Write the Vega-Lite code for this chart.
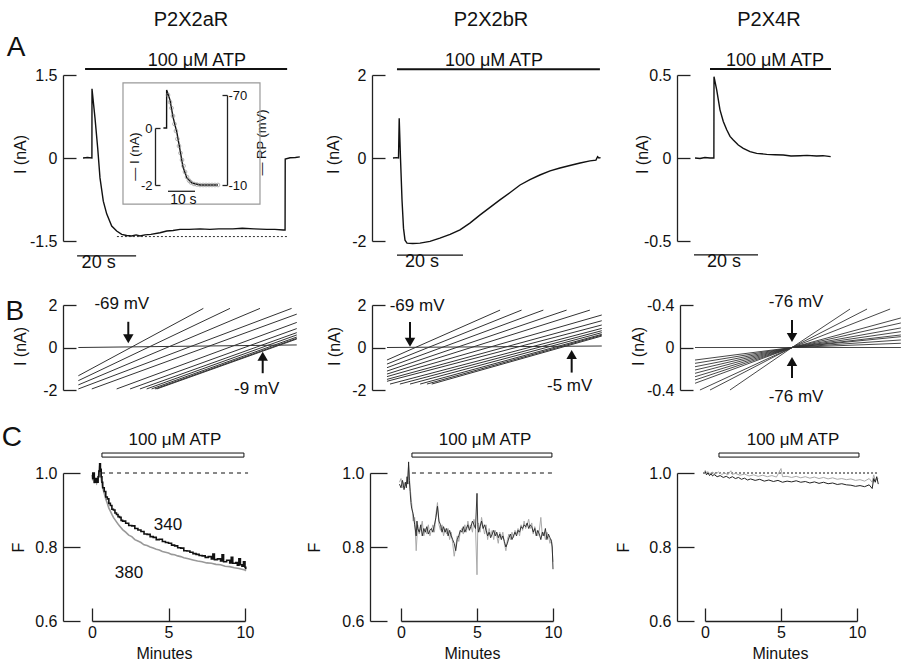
{
"$schema": "https://vega.github.io/schema/vega-lite/v6.json",
"autosize": {"type": "none"},
"padding": {"left": 63, "top": 75, "right": 838, "bottom": 590},
"background": "white",
"columns": 3,
"spacing": {"row": 64, "column": 0},
"bounds": "flush",
"concat": [
{
 "width": 307, "height": 166,
 "layer": [
  {
   "encoding": {
    "x": {"field": "t", "type": "quantitative", "scale": {"domain": [-6.78, 97.29], "nice": false, "zero": false}, "axis": null},
    "y": {"field": "I", "type": "quantitative", "scale": {"domain": [-1.5, 1.5], "nice": false, "zero": false}, "axis": {"values": [-1.5, 0, 1.5], "labelExpr": "'' + datum.value", "tickSize": -13, "labelPadding": 19, "title": "I (nA)", "titleX": -43, "titleY": 79, "titleBaseline": "middle"}}
   },
   "layer": [
    {"data": {"values": [
      {"t": 0, "I": 0}, {"t": 1.5, "I": 0.01}, {"t": 3.02, "I": 0}, {"t": 3.05, "I": 1.25}, {"t": 4.07, "I": 0.72}, {"t": 4.98, "I": 0.18}, {"t": 5.76, "I": -0.36}, {"t": 6.88, "I": -0.78}, {"t": 8.03, "I": -1.01}, {"t": 9.73, "I": -1.23}, {"t": 11.42, "I": -1.32}, {"t": 13.12, "I": -1.38}, {"t": 14.81, "I": -1.4}, {"t": 16.5, "I": -1.41}, {"t": 18, "I": -1.39}, {"t": 19.3, "I": -1.41}, {"t": 21, "I": -1.39}, {"t": 23, "I": -1.38}, {"t": 26.1, "I": -1.35}, {"t": 28.4, "I": -1.32}, {"t": 30.5, "I": -1.31}, {"t": 32.9, "I": -1.29}, {"t": 36, "I": -1.29}, {"t": 39.7, "I": -1.28}, {"t": 43, "I": -1.29}, {"t": 46, "I": -1.28}, {"t": 50.8, "I": -1.28}, {"t": 54, "I": -1.27}, {"t": 58, "I": -1.28}, {"t": 62.3, "I": -1.29}, {"t": 65, "I": -1.29}, {"t": 67.9, "I": -1.3}, {"t": 68.5, "I": -1.3}, {"t": 68.55, "I": -0.02}, {"t": 70.2, "I": 0.005}, {"t": 72, "I": 0.01}, {"t": 73.5, "I": 0.02}
     ]},
     "mark": {"type": "line", "color": "#111", "strokeWidth": 1.4}},
    {"data": {"values": [{"t": 11.5, "t2": 69.2, "I": -1.42}]},
     "mark": {"type": "rule", "color": "#333", "strokeWidth": 1, "strokeDash": [2, 2]},
     "encoding": {"x2": {"field": "t2"}}},
    {"data": {"values": [{"t": 0.7, "t2": 69.2, "I": 1.61}]},
     "mark": {"type": "rule", "color": "#111", "strokeWidth": 2},
     "encoding": {"x2": {"field": "t2"}}},
    {"data": {"values": [{"t": -2, "t2": 18, "I": -1.77}]},
     "mark": {"type": "rule", "color": "#111", "strokeWidth": 1.2},
     "encoding": {"x2": {"field": "t2"}}},
    {"data": {"values": [{"t": 38.6, "I": 1.75, "label": "100 μM ATP"}, {"t": 5.3, "I": -1.9, "label": "20 s"}]},
     "mark": {"type": "text", "fontSize": 18, "color": "#111"},
     "encoding": {"text": {"field": "label"}}},
    {"data": {"values": [{"t": 36.6, "I": 2.49, "label": "P2X2aR"}]},
     "mark": {"type": "text", "fontSize": 20, "color": "#111"},
     "encoding": {"text": {"field": "label"}}},
    {"data": {"values": [{"t": -22.7, "I": 1.99, "label": "A"}]},
     "mark": {"type": "text", "fontSize": 28, "color": "#111"},
     "encoding": {"text": {"field": "label"}}}
   ]
  },
  {
   "encoding": {"x": {"field": "t", "type": "quantitative", "scale": {"domain": [0, 10], "range": [105, 132], "nice": false, "zero": false}, "axis": null}},
   "layer": [
    {
     "encoding": {"y": {"field": "I", "type": "quantitative", "scale": {"domain": [-2, 0], "range": [110, 53], "nice": false, "zero": false}, "axis": {"orient": "left", "offset": -92, "values": [-2, 0], "labelExpr": "'' + datum.value", "tickSize": -5, "labelPadding": 8, "labelFontSize": 13, "title": "— I (nA)", "titleFontSize": 13, "titleX": -21, "titleY": 81, "titleBaseline": "middle"}}},
     "layer": [
      {"data": {"values": [{"t": -16.67, "t2": 34.07, "I": 1.58, "I2": -2.67}]},
       "mark": {"type": "rect", "filled": false, "color": "#999", "strokeWidth": 1.2},
       "encoding": {"x2": {"field": "t2"}, "y2": {"field": "I2"}}},
      {"data": {"values": [
        {"t": -1.7, "I": 0}, {"t": -0.52, "I": 0}, {"t": -0.5, "I": 1.33}, {"t": 0.74, "I": 0.98}, {"t": 1.85, "I": 0.39}, {"t": 3.33, "I": -0.18}, {"t": 4.44, "I": -0.77}, {"t": 5.56, "I": -1.37}, {"t": 7.0, "I": -1.75}, {"t": 8.9, "I": -1.93}, {"t": 11.9, "I": -2.0}, {"t": 15, "I": -2.0}, {"t": 18.5, "I": -2.0}
       ]},
       "mark": {"type": "line", "color": "#111", "strokeWidth": 1.4}},
      {"data": {"values": [{"t": 0, "t2": 10, "I": -2.22}]},
       "mark": {"type": "rule", "color": "#111", "strokeWidth": 1.2},
       "encoding": {"x2": {"field": "t2"}}},
      {"data": {"values": [{"t": 5.7, "I": -2.28, "label": "10 s"}]},
       "mark": {"type": "text", "fontSize": 14, "baseline": "top", "color": "#111"},
       "encoding": {"text": {"field": "label"}}}
     ]
    },
    {
     "data": {"values": [
      {"t": 0, "RP": -70}, {"t": 0.74, "RP": -65.3}, {"t": 1.3, "RP": -61.3}, {"t": 1.85, "RP": -56}, {"t": 2.4, "RP": -50.7}, {"t": 2.96, "RP": -46}, {"t": 3.5, "RP": -40.7}, {"t": 4.07, "RP": -36}, {"t": 4.63, "RP": -31.3}, {"t": 5.19, "RP": -26.7}, {"t": 5.74, "RP": -22.7}, {"t": 6.3, "RP": -18.7}, {"t": 7.04, "RP": -15.3}, {"t": 7.78, "RP": -13}, {"t": 8.5, "RP": -11.7}, {"t": 9.63, "RP": -10.7}, {"t": 10.7, "RP": -10.3}, {"t": 11.85, "RP": -10}, {"t": 13.0, "RP": -10}, {"t": 14.1, "RP": -10}, {"t": 15.2, "RP": -10}, {"t": 16.3, "RP": -10}, {"t": 17.4, "RP": -10}, {"t": 18.5, "RP": -10}
     ]},
     "mark": {"type": "point", "shape": "circle", "size": 14, "filled": false, "color": "#888", "strokeWidth": 0.9},
     "encoding": {"y": {"field": "RP", "type": "quantitative", "scale": {"domain": [-70, -10], "range": [20, 110], "nice": false, "zero": false}, "axis": {"orient": "right", "offset": -143, "values": [-70, -10], "labelExpr": "'' + datum.value", "tickSize": -5, "labelPadding": 6, "labelFontSize": 13, "title": "— RP (mV)", "titleFontSize": 13, "titleAngle": -90, "titleX": 34, "titleY": 67, "titleBaseline": "middle"}}}
    }
   ],
   "resolve": {"scale": {"y": "independent"}, "axis": {"y": "independent"}}
  }
 ],
 "resolve": {"scale": {"x": "independent", "y": "independent"}, "axis": {"y": "independent"}}
},
{
 "width": 307, "height": 166,
 "encoding": {
  "x": {"field": "t", "type": "quantitative", "scale": {"domain": [-6.97, 86.06], "nice": false, "zero": false}, "axis": null},
  "y": {"field": "I", "type": "quantitative", "scale": {"domain": [-2, 2], "nice": false, "zero": false}, "axis": {"offset": -2, "values": [-2, 0, 2], "labelExpr": "'' + datum.value", "tickSize": -13, "labelPadding": 19, "title": "I (nA)", "titleX": -39, "titleY": 79, "titleBaseline": "middle"}}
 },
 "layer": [
  {"data": {"values": [
    {"t": 0, "I": 0}, {"t": 1.0, "I": 0.01}, {"t": 1.67, "I": 0}, {"t": 1.88, "I": 0.96}, {"t": 2.27, "I": 0}, {"t": 2.73, "I": -1.01}, {"t": 3.18, "I": -1.69}, {"t": 3.64, "I": -1.98}, {"t": 4.24, "I": -2.05}, {"t": 6, "I": -2.06}, {"t": 8.18, "I": -2.05}, {"t": 11.2, "I": -2.01}, {"t": 14.2, "I": -1.93}, {"t": 17.3, "I": -1.84}, {"t": 20.3, "I": -1.73}, {"t": 23.3, "I": -1.57}, {"t": 26.4, "I": -1.37}, {"t": 29.4, "I": -1.19}, {"t": 32.4, "I": -1.01}, {"t": 35.5, "I": -0.83}, {"t": 38.5, "I": -0.65}, {"t": 41.5, "I": -0.52}, {"t": 44.5, "I": -0.41}, {"t": 47.6, "I": -0.31}, {"t": 50.6, "I": -0.24}, {"t": 53.6, "I": -0.18}, {"t": 56.7, "I": -0.12}, {"t": 59.7, "I": -0.07}, {"t": 61.5, "I": -0.05}, {"t": 62.0, "I": 0.03}, {"t": 62.4, "I": 0.0}, {"t": 62.9, "I": 0.01}
   ]},
   "mark": {"type": "line", "color": "#111", "strokeWidth": 1.4}},
  {"data": {"values": [{"t": 1.2, "t2": 62.7, "I": 2.14}]},
   "mark": {"type": "rule", "color": "#111", "strokeWidth": 2},
   "encoding": {"x2": {"field": "t2"}}},
  {"data": {"values": [{"t": 1.2, "t2": 21.2, "I": -2.34}]},
   "mark": {"type": "rule", "color": "#111", "strokeWidth": 1.2},
   "encoding": {"x2": {"field": "t2"}}},
  {"data": {"values": [{"t": 30.6, "I": 2.34, "label": "100 μM ATP"}, {"t": 8.8, "I": -2.51, "label": "20 s"}]},
   "mark": {"type": "text", "fontSize": 18, "color": "#111"},
   "encoding": {"text": {"field": "label"}}},
  {"data": {"values": [{"t": 29.7, "I": 3.33, "label": "P2X2bR"}]},
   "mark": {"type": "text", "fontSize": 20, "color": "#111"},
   "encoding": {"text": {"field": "label"}}}
 ]
},
{
 "width": 224, "height": 166,
 "encoding": {
  "x": {"field": "t", "type": "quantitative", "scale": {"domain": [-5.625, 64.375], "nice": false, "zero": false}, "axis": null},
  "y": {"field": "I", "type": "quantitative", "scale": {"domain": [-0.5, 0.5], "nice": false, "zero": false}, "axis": {"values": [-0.5, 0, 0.5], "labelExpr": "'' + datum.value", "tickSize": -13, "labelPadding": 19, "title": "I (nA)", "titleX": -35, "titleY": 79, "titleBaseline": "middle"}}
 },
 "layer": [
  {"data": {"values": [
    {"t": 0, "I": 0}, {"t": 1.56, "I": -0.003}, {"t": 3.1, "I": 0.003}, {"t": 4.7, "I": 0}, {"t": 5.9, "I": 0.0}, {"t": 5.94, "I": 0.49}, {"t": 6.78, "I": 0.41}, {"t": 7.81, "I": 0.29}, {"t": 8.84, "I": 0.22}, {"t": 9.91, "I": 0.17}, {"t": 10.94, "I": 0.13}, {"t": 11.97, "I": 0.108}, {"t": 13.53, "I": 0.078}, {"t": 15.09, "I": 0.058}, {"t": 17.19, "I": 0.038}, {"t": 19.28, "I": 0.028}, {"t": 22.41, "I": 0.022}, {"t": 25, "I": 0.02}, {"t": 27.6, "I": 0.018}, {"t": 30, "I": 0.012}, {"t": 32.8, "I": 0.014}, {"t": 35, "I": 0.016}, {"t": 38.0, "I": 0.012}, {"t": 40, "I": 0.014}, {"t": 42.4, "I": 0.008}
   ]},
   "mark": {"type": "line", "color": "#111", "strokeWidth": 1.4}},
  {"data": {"values": [{"t": 4.69, "t2": 42.5, "I": 0.536}]},
   "mark": {"type": "rule", "color": "#111", "strokeWidth": 2},
   "encoding": {"x2": {"field": "t2"}}},
  {"data": {"values": [{"t": -0.31, "t2": 19.69, "I": -0.584}]},
   "mark": {"type": "rule", "color": "#111", "strokeWidth": 1.2},
   "encoding": {"x2": {"field": "t2"}}},
  {"data": {"values": [{"t": 25.0, "I": 0.584, "label": "100 μM ATP"}, {"t": 9.06, "I": -0.627, "label": "20 s"}]},
   "mark": {"type": "text", "fontSize": 18, "color": "#111"},
   "encoding": {"text": {"field": "label"}}},
  {"data": {"values": [{"t": 23.1, "I": 0.831, "label": "P2X4R"}]},
   "mark": {"type": "text", "fontSize": 20, "color": "#111"},
   "encoding": {"text": {"field": "label"}}}
 ]
},
{
 "width": 307, "height": 104,
 "encoding": {
  "x": {"field": "V", "type": "quantitative", "scale": {"domain": [-98.15, 38.9], "nice": false, "zero": false}, "axis": null},
  "y": {"field": "I", "type": "quantitative", "scale": {"domain": [-2, 2], "range": [85, 0], "nice": false, "zero": false}, "axis": {"values": [-2, 0, 2], "labelExpr": "'' + datum.value", "tickSize": -13, "labelPadding": 19, "title": "I (nA)", "titleX": -43, "titleY": 41, "titleBaseline": "middle"}}
 },
 "layer": [
  {"data": {"values": [
    {"line": 0, "V": -91.3, "I": 0}, {"line": 0, "V": 6.2, "I": 0.12},
    {"line": 1, "V": -91.3, "I": -1.33}, {"line": 1, "V": -35.5, "I": 1.84},
    {"line": 2, "V": -91.3, "I": -1.56}, {"line": 2, "V": -23.6, "I": 1.84},
    {"line": 3, "V": -91.3, "I": -1.76}, {"line": 3, "V": -10.2, "I": 1.84},
    {"line": 4, "V": -91.3, "I": -1.95}, {"line": 4, "V": 3.9, "I": 1.84},
    {"line": 5, "V": -85.3, "I": -1.95}, {"line": 5, "V": 6.2, "I": 1.57},
    {"line": 6, "V": -74.2, "I": -1.95}, {"line": 6, "V": 6.2, "I": 1.18},
    {"line": 7, "V": -68.2, "I": -1.95}, {"line": 7, "V": 6.2, "I": 0.89},
    {"line": 8, "V": -63.8, "I": -1.95}, {"line": 8, "V": 6.2, "I": 0.7},
    {"line": 9, "V": -60.8, "I": -1.95}, {"line": 9, "V": 6.2, "I": 0.59},
    {"line": 10, "V": -58.6, "I": -1.95}, {"line": 10, "V": 6.2, "I": 0.49},
    {"line": 11, "V": -57.1, "I": -1.95}, {"line": 11, "V": 6.2, "I": 0.43},
    {"line": 12, "V": -56.3, "I": -1.95}, {"line": 12, "V": 6.2, "I": 0.4}
   ]},
   "mark": {"type": "line", "color": "#333", "strokeWidth": 1},
   "encoding": {"detail": {"field": "line", "type": "nominal"}}},
  {"data": {"values": [{"V": -69, "I": 1.21, "I2": 0.5}, {"V": -9, "I": -0.5, "I2": -1.21}]},
   "mark": {"type": "rule", "color": "#111", "strokeWidth": 2},
   "encoding": {"y2": {"field": "I2"}}},
  {"data": {"values": [{"V": -69, "I": 0.41, "dir": "down"}, {"V": -9, "I": -0.41, "dir": "up"}]},
   "mark": {"type": "point", "filled": true, "size": 110, "color": "#111", "opacity": 1},
   "encoding": {"shape": {"field": "dir", "type": "nominal", "scale": {"domain": ["down", "up"], "range": ["triangle-down", "triangle-up"]}, "legend": null}}},
  {"data": {"values": [{"V": -71.9, "I": 2.05, "label": "-69 mV"}, {"V": -11.7, "I": -1.95, "label": "-9 mV"}]},
   "mark": {"type": "text", "fontSize": 17, "color": "#111"},
   "encoding": {"text": {"field": "label"}}},
  {"data": {"values": [{"V": -119.6, "I": 1.67, "label": "B"}]},
   "mark": {"type": "text", "fontSize": 28, "color": "#111"},
   "encoding": {"text": {"field": "label"}}}
 ]
},
{
 "width": 307, "height": 104,
 "encoding": {
  "x": {"field": "V", "type": "quantitative", "scale": {"domain": [-84.81, 36.53], "nice": false, "zero": false}, "axis": null},
  "y": {"field": "I", "type": "quantitative", "scale": {"domain": [-2, 2], "range": [85, 0], "nice": false, "zero": false}, "axis": {"offset": -2, "values": [-2, 0, 2], "labelExpr": "'' + datum.value", "tickSize": -13, "labelPadding": 19, "title": "I (nA)", "titleX": -38, "titleY": 41, "titleBaseline": "middle"}}
 },
 "layer": [
  {"data": {"values": [
    {"line": 0, "V": -78.1, "I": 0}, {"line": 0, "V": 6.8, "I": 0.07},
    {"line": 1, "V": -78.1, "I": -0.59}, {"line": 1, "V": -33.4, "I": 1.76},
    {"line": 2, "V": -78.1, "I": -0.78}, {"line": 2, "V": -24.9, "I": 1.76},
    {"line": 3, "V": -78.1, "I": -0.95}, {"line": 3, "V": -16.3, "I": 1.76},
    {"line": 4, "V": -78.1, "I": -1.11}, {"line": 4, "V": -7.1, "I": 1.76},
    {"line": 5, "V": -78.1, "I": -1.25}, {"line": 5, "V": 2.1, "I": 1.76},
    {"line": 6, "V": -78.1, "I": -1.37}, {"line": 6, "V": 6.8, "I": 1.53},
    {"line": 7, "V": -78.1, "I": -1.5}, {"line": 7, "V": 6.8, "I": 1.26},
    {"line": 8, "V": -78.1, "I": -1.59}, {"line": 8, "V": 6.8, "I": 1.06},
    {"line": 9, "V": -76.9, "I": -1.72}, {"line": 9, "V": 6.8, "I": 0.9},
    {"line": 10, "V": -73.0, "I": -1.72}, {"line": 10, "V": 6.8, "I": 0.79},
    {"line": 11, "V": -69.0, "I": -1.72}, {"line": 11, "V": 6.8, "I": 0.7},
    {"line": 12, "V": -65.0, "I": -1.72}, {"line": 12, "V": 6.8, "I": 0.62},
    {"line": 13, "V": -62.3, "I": -1.72}, {"line": 13, "V": 6.8, "I": 0.58},
    {"line": 14, "V": -60.4, "I": -1.72}, {"line": 14, "V": 6.8, "I": 0.54}
   ]},
   "mark": {"type": "line", "color": "#333", "strokeWidth": 1},
   "encoding": {"detail": {"field": "line", "type": "nominal"}}},
  {"data": {"values": [{"V": -69, "I": 1.2, "I2": 0.35}, {"V": -5.1, "I": -0.45, "I2": -1.18}]},
   "mark": {"type": "rule", "color": "#111", "strokeWidth": 2},
   "encoding": {"y2": {"field": "I2"}}},
  {"data": {"values": [{"V": -69, "I": 0.25, "dir": "down"}, {"V": -5.1, "I": -0.33, "dir": "up"}]},
   "mark": {"type": "point", "filled": true, "size": 110, "color": "#111", "opacity": 1},
   "encoding": {"shape": {"field": "dir", "type": "nominal", "scale": {"domain": ["down", "up"], "range": ["triangle-down", "triangle-up"]}, "legend": null}}},
  {"data": {"values": [{"V": -66.2, "I": 1.95, "label": "-69 mV"}, {"V": -5.9, "I": -1.81, "label": "-5 mV"}]},
   "mark": {"type": "text", "fontSize": 17, "color": "#111"},
   "encoding": {"text": {"field": "label"}}}
 ]
},
{
 "width": 224, "height": 104,
 "encoding": {
  "x": {"field": "V", "type": "quantitative", "scale": {"domain": [-127.34, -27.34], "nice": false, "zero": false}, "axis": null},
  "y": {"field": "I", "type": "quantitative", "scale": {"domain": [-0.4, 0.4], "range": [85, 0], "nice": false, "zero": false}, "axis": {"offset": -3, "values": [-0.4, 0, 0.4], "labelExpr": "datum.value == 0 ? '0' : '-0.4'", "tickSize": -13, "labelPadding": 19, "title": "I (nA)", "titleX": -42, "titleY": 41, "titleBaseline": "middle"}}
 },
 "layer": [
  {"data": {"values": [
    {"line": 0, "V": -119.3, "I": 0}, {"line": 0, "V": -27.4, "I": 0},
    {"line": 1, "V": -103.7, "I": -0.4}, {"line": 1, "V": -76, "I": 0}, {"line": 1, "V": -50.1, "I": 0.362},
    {"line": 2, "V": -112.6, "I": -0.4}, {"line": 2, "V": -76, "I": 0}, {"line": 2, "V": -42.5, "I": 0.362},
    {"line": 3, "V": -117.1, "I": -0.4}, {"line": 3, "V": -76, "I": 0}, {"line": 3, "V": -32.2, "I": 0.362},
    {"line": 4, "V": -119.3, "I": -0.337}, {"line": 4, "V": -76, "I": 0}, {"line": 4, "V": -27.4, "I": 0.278},
    {"line": 5, "V": -119.3, "I": -0.306}, {"line": 5, "V": -76, "I": 0}, {"line": 5, "V": -27.4, "I": 0.231},
    {"line": 6, "V": -119.3, "I": -0.275}, {"line": 6, "V": -76, "I": 0}, {"line": 6, "V": -27.4, "I": 0.184},
    {"line": 7, "V": -119.3, "I": -0.243}, {"line": 7, "V": -76, "I": 0}, {"line": 7, "V": -27.4, "I": 0.149},
    {"line": 8, "V": -119.3, "I": -0.212}, {"line": 8, "V": -76, "I": 0}, {"line": 8, "V": -27.4, "I": 0.118},
    {"line": 9, "V": -119.3, "I": -0.181}, {"line": 9, "V": -76, "I": 0}, {"line": 9, "V": -27.4, "I": 0.102},
    {"line": 10, "V": -119.3, "I": -0.149}, {"line": 10, "V": -76, "I": 0}, {"line": 10, "V": -27.4, "I": 0.071},
    {"line": 11, "V": -119.3, "I": -0.118}, {"line": 11, "V": -76, "I": 0}, {"line": 11, "V": -27.4, "I": 0.04}
   ]},
   "mark": {"type": "line", "color": "#333", "strokeWidth": 0.9},
   "encoding": {"detail": {"field": "line", "type": "nominal"}}},
  {"data": {"values": [{"V": -76, "I": 0.259, "I2": 0.12}, {"V": -76, "I": -0.15, "I2": -0.287}]},
   "mark": {"type": "rule", "color": "#111", "strokeWidth": 2},
   "encoding": {"y2": {"field": "I2"}}},
  {"data": {"values": [{"V": -76, "I": 0.094, "dir": "down"}, {"V": -76, "I": -0.132, "dir": "up"}]},
   "mark": {"type": "point", "filled": true, "size": 110, "color": "#111", "opacity": 1},
   "encoding": {"shape": {"field": "dir", "type": "nominal", "scale": {"domain": ["down", "up"], "range": ["triangle-down", "triangle-up"]}, "legend": null}}},
  {"data": {"values": [{"V": -74.2, "I": 0.428, "label": "-76 mV"}, {"V": -74.2, "I": -0.466, "label": "-76 mV"}]},
   "mark": {"type": "text", "fontSize": 17, "color": "#111"},
   "encoding": {"text": {"field": "label"}}}
 ]
},
{
 "width": 307, "height": 148,
 "encoding": {
  "x": {"field": "t", "type": "quantitative", "scale": {"domain": [0, 10], "range": [29, 182], "nice": false, "zero": false}, "axis": {"values": [0, 5, 10], "tickSize": -13, "labelPadding": 16, "labelFlush": false, "title": "Minutes", "titleX": 101, "titleY": 32, "titleBaseline": "middle"}},
  "y": {"field": "F", "type": "quantitative", "scale": {"domain": [0.6, 1.0], "nice": false, "zero": false}, "axis": {"values": [0.6, 0.8, 1.0], "format": ".1f", "tickSize": -17, "labelPadding": 23, "title": "F", "titleX": -45, "titleY": 74, "titleBaseline": "middle"}}
 },
 "layer": [
  {"data": {"values": [{"t": 0.59, "t2": 10.2, "F": 1.0}]},
   "mark": {"type": "rule", "color": "#111", "strokeWidth": 1, "strokeDash": [4, 4]},
   "encoding": {"x2": {"field": "t2"}}},
  {"data": {"values": [{"t": 0.65, "t2": 9.93, "F": 1.043, "F2": 1.054}]},
   "mark": {"type": "rect", "fill": "white", "stroke": "#111", "strokeWidth": 1},
   "encoding": {"x2": {"field": "t2"}, "y2": {"field": "F2"}}},
  {"data": {"values": [
    {"t": 0.0, "F": 0.995}, {"t": 0.05, "F": 0.98}, {"t": 0.1, "F": 0.99}, {"t": 0.15, "F": 0.972}, {"t": 0.2, "F": 0.98}, {"t": 0.3, "F": 0.972}, {"t": 0.4, "F": 0.985}, {"t": 0.5, "F": 1.02}, {"t": 0.55, "F": 1.005}, {"t": 0.6, "F": 0.985}, {"t": 0.7, "F": 0.96}, {"t": 0.8, "F": 0.945}, {"t": 0.9, "F": 0.93}, {"t": 1.0, "F": 0.918}, {"t": 1.1, "F": 0.905}, {"t": 1.2, "F": 0.897}, {"t": 1.3, "F": 0.888}, {"t": 1.4, "F": 0.88}, {"t": 1.5, "F": 0.874}, {"t": 1.6, "F": 0.868}, {"t": 1.7, "F": 0.862}, {"t": 1.8, "F": 0.857}, {"t": 1.9, "F": 0.852}, {"t": 2.0, "F": 0.847}, {"t": 2.2, "F": 0.84}, {"t": 2.4, "F": 0.832}, {"t": 2.6, "F": 0.828}, {"t": 2.8, "F": 0.82}, {"t": 3.0, "F": 0.816}, {"t": 3.2, "F": 0.812}, {"t": 3.4, "F": 0.806}, {"t": 3.6, "F": 0.804}, {"t": 3.8, "F": 0.8}, {"t": 4.0, "F": 0.797}, {"t": 4.2, "F": 0.794}, {"t": 4.4, "F": 0.792}, {"t": 4.6, "F": 0.788}, {"t": 4.8, "F": 0.786}, {"t": 5.0, "F": 0.784}, {"t": 5.2, "F": 0.78}, {"t": 5.4, "F": 0.779}, {"t": 5.6, "F": 0.776}, {"t": 5.8, "F": 0.774}, {"t": 6.0, "F": 0.771}, {"t": 6.3, "F": 0.768}, {"t": 6.6, "F": 0.765}, {"t": 6.9, "F": 0.762}, {"t": 7.2, "F": 0.76}, {"t": 7.5, "F": 0.757}, {"t": 7.8, "F": 0.756}, {"t": 8.1, "F": 0.753}, {"t": 8.4, "F": 0.752}, {"t": 8.7, "F": 0.748}, {"t": 9.0, "F": 0.747}, {"t": 9.3, "F": 0.744}, {"t": 9.6, "F": 0.742}, {"t": 9.8, "F": 0.74}, {"t": 10.0, "F": 0.738}, {"t": 10.05, "F": 0.735}
   ]},
   "mark": {"type": "line", "color": "#999", "strokeWidth": 1.6}},
  {"data": {"values": [
    {"t": 0.0, "F": 1.0}, {"t": 0.05, "F": 0.985}, {"t": 0.1, "F": 1.0}, {"t": 0.15, "F": 0.975}, {"t": 0.2, "F": 0.985}, {"t": 0.25, "F": 0.975}, {"t": 0.3, "F": 0.985}, {"t": 0.35, "F": 0.975}, {"t": 0.4, "F": 0.99}, {"t": 0.45, "F": 1.005}, {"t": 0.5, "F": 1.025}, {"t": 0.55, "F": 1.01}, {"t": 0.6, "F": 0.99}, {"t": 0.65, "F": 0.975}, {"t": 0.7, "F": 0.96}, {"t": 0.8, "F": 0.95}, {"t": 0.9, "F": 0.935}, {"t": 1.0, "F": 0.93}, {"t": 1.1, "F": 0.918}, {"t": 1.2, "F": 0.912}, {"t": 1.3, "F": 0.902}, {"t": 1.4, "F": 0.9}, {"t": 1.5, "F": 0.892}, {"t": 1.6, "F": 0.888}, {"t": 1.7, "F": 0.882}, {"t": 1.8, "F": 0.88}, {"t": 1.9, "F": 0.872}, {"t": 2.0, "F": 0.87}, {"t": 2.2, "F": 0.864}, {"t": 2.4, "F": 0.858}, {"t": 2.6, "F": 0.857}, {"t": 2.8, "F": 0.85}, {"t": 3.0, "F": 0.846}, {"t": 3.2, "F": 0.842}, {"t": 3.4, "F": 0.835}, {"t": 3.6, "F": 0.834}, {"t": 3.8, "F": 0.828}, {"t": 4.0, "F": 0.826}, {"t": 4.2, "F": 0.82}, {"t": 4.4, "F": 0.821}, {"t": 4.6, "F": 0.815}, {"t": 4.8, "F": 0.812}, {"t": 5.0, "F": 0.81}, {"t": 5.2, "F": 0.805}, {"t": 5.4, "F": 0.803}, {"t": 5.6, "F": 0.798}, {"t": 5.8, "F": 0.797}, {"t": 6.0, "F": 0.79}, {"t": 6.2, "F": 0.789}, {"t": 6.4, "F": 0.786}, {"t": 6.6, "F": 0.782}, {"t": 6.8, "F": 0.78}, {"t": 7.0, "F": 0.777}, {"t": 7.2, "F": 0.776}, {"t": 7.4, "F": 0.772}, {"t": 7.6, "F": 0.774}, {"t": 7.8, "F": 0.768}, {"t": 7.9, "F": 0.781}, {"t": 8.0, "F": 0.766}, {"t": 8.2, "F": 0.768}, {"t": 8.4, "F": 0.762}, {"t": 8.5, "F": 0.779}, {"t": 8.6, "F": 0.76}, {"t": 8.8, "F": 0.764}, {"t": 9.0, "F": 0.757}, {"t": 9.1, "F": 0.772}, {"t": 9.2, "F": 0.756}, {"t": 9.4, "F": 0.758}, {"t": 9.5, "F": 0.751}, {"t": 9.6, "F": 0.768}, {"t": 9.7, "F": 0.752}, {"t": 9.8, "F": 0.748}, {"t": 9.9, "F": 0.76}, {"t": 10.0, "F": 0.745}, {"t": 10.05, "F": 0.74}
   ]},
   "mark": {"type": "line", "color": "#111", "strokeWidth": 1.6, "interpolate": "step-after"}},
  {"data": {"values": [{"t": 5.42, "F": 1.089, "label": "100 μM ATP"}, {"t": 4.97, "F": 0.859, "label": "340"}, {"t": 2.42, "F": 0.73, "label": "380"}]},
   "mark": {"type": "text", "fontSize": 17, "color": "#111"},
   "encoding": {"text": {"field": "label"}}},
  {"data": {"values": [{"t": -5.23, "F": 1.095, "label": "C"}]},
   "mark": {"type": "text", "fontSize": 28, "color": "#111"},
   "encoding": {"text": {"field": "label"}}}
 ]
},
{
 "width": 307, "height": 148,
 "encoding": {
  "x": {"field": "t", "type": "quantitative", "scale": {"domain": [0, 10], "range": [31, 183], "nice": false, "zero": false}, "axis": {"values": [0, 5, 10], "tickSize": -13, "labelPadding": 16, "labelFlush": false, "title": "Minutes", "titleX": 102, "titleY": 32, "titleBaseline": "middle"}},
  "y": {"field": "F", "type": "quantitative", "scale": {"domain": [0.6, 1.0], "nice": false, "zero": false}, "axis": {"values": [0.6, 0.8, 1.0], "format": ".1f", "tickSize": -17, "labelPadding": 23, "title": "F", "titleX": -56, "titleY": 74, "titleBaseline": "middle"}}
 },
 "layer": [
  {"data": {"values": [{"t": 0.72, "t2": 10.0, "F": 1.0}]},
   "mark": {"type": "rule", "color": "#111", "strokeWidth": 1, "strokeDash": [4, 4]},
   "encoding": {"x2": {"field": "t2"}}},
  {"data": {"values": [{"t": 0.72, "t2": 9.93, "F": 1.043, "F2": 1.054}]},
   "mark": {"type": "rect", "fill": "white", "stroke": "#111", "strokeWidth": 1},
   "encoding": {"x2": {"field": "t2"}, "y2": {"field": "F2"}}},
  {"data": {"values": [
    {"t": -0.1, "F": 0.975}, {"t": 0.0, "F": 0.985}, {"t": 0.1, "F": 0.96}, {"t": 0.2, "F": 0.975}, {"t": 0.3, "F": 0.965}, {"t": 0.4, "F": 0.98}, {"t": 0.5, "F": 1.02}, {"t": 0.55, "F": 0.99}, {"t": 0.6, "F": 0.96}, {"t": 0.7, "F": 0.92}, {"t": 0.8, "F": 0.87}, {"t": 0.9, "F": 0.88}, {"t": 1.0, "F": 0.79}, {"t": 1.1, "F": 0.86}, {"t": 1.2, "F": 0.835}, {"t": 1.3, "F": 0.85}, {"t": 1.4, "F": 0.87}, {"t": 1.5, "F": 0.83}, {"t": 1.6, "F": 0.85}, {"t": 1.7, "F": 0.835}, {"t": 1.8, "F": 0.86}, {"t": 1.9, "F": 0.83}, {"t": 2.0, "F": 0.845}, {"t": 2.1, "F": 0.86}, {"t": 2.2, "F": 0.84}, {"t": 2.3, "F": 0.89}, {"t": 2.4, "F": 0.92}, {"t": 2.5, "F": 0.86}, {"t": 2.6, "F": 0.845}, {"t": 2.7, "F": 0.86}, {"t": 2.8, "F": 0.83}, {"t": 2.9, "F": 0.85}, {"t": 3.0, "F": 0.835}, {"t": 3.1, "F": 0.85}, {"t": 3.2, "F": 0.82}, {"t": 3.3, "F": 0.84}, {"t": 3.4, "F": 0.81}, {"t": 3.5, "F": 0.775}, {"t": 3.6, "F": 0.8}, {"t": 3.7, "F": 0.83}, {"t": 3.8, "F": 0.815}, {"t": 3.9, "F": 0.84}, {"t": 4.0, "F": 0.85}, {"t": 4.1, "F": 0.835}, {"t": 4.2, "F": 0.86}, {"t": 4.3, "F": 0.84}, {"t": 4.4, "F": 0.87}, {"t": 4.5, "F": 0.85}, {"t": 4.6, "F": 0.86}, {"t": 4.7, "F": 0.84}, {"t": 4.8, "F": 0.875}, {"t": 4.9, "F": 0.855}, {"t": 5.0, "F": 0.725}, {"t": 5.05, "F": 0.85}, {"t": 5.1, "F": 0.865}, {"t": 5.2, "F": 0.84}, {"t": 5.3, "F": 0.88}, {"t": 5.4, "F": 0.855}, {"t": 5.5, "F": 0.835}, {"t": 5.6, "F": 0.86}, {"t": 5.7, "F": 0.82}, {"t": 5.8, "F": 0.85}, {"t": 5.9, "F": 0.83}, {"t": 6.0, "F": 0.845}, {"t": 6.1, "F": 0.82}, {"t": 6.2, "F": 0.845}, {"t": 6.3, "F": 0.83}, {"t": 6.4, "F": 0.81}, {"t": 6.5, "F": 0.84}, {"t": 6.6, "F": 0.825}, {"t": 6.7, "F": 0.84}, {"t": 6.8, "F": 0.81}, {"t": 6.9, "F": 0.79}, {"t": 7.0, "F": 0.82}, {"t": 7.1, "F": 0.835}, {"t": 7.2, "F": 0.82}, {"t": 7.3, "F": 0.84}, {"t": 7.4, "F": 0.825}, {"t": 7.5, "F": 0.845}, {"t": 7.6, "F": 0.835}, {"t": 7.7, "F": 0.85}, {"t": 7.8, "F": 0.83}, {"t": 7.9, "F": 0.86}, {"t": 8.0, "F": 0.845}, {"t": 8.1, "F": 0.87}, {"t": 8.2, "F": 0.85}, {"t": 8.3, "F": 0.86}, {"t": 8.4, "F": 0.875}, {"t": 8.5, "F": 0.85}, {"t": 8.6, "F": 0.865}, {"t": 8.7, "F": 0.835}, {"t": 8.8, "F": 0.855}, {"t": 8.9, "F": 0.84}, {"t": 9.0, "F": 0.83}, {"t": 9.1, "F": 0.845}, {"t": 9.2, "F": 0.88}, {"t": 9.3, "F": 0.83}, {"t": 9.4, "F": 0.84}, {"t": 9.5, "F": 0.82}, {"t": 9.6, "F": 0.84}, {"t": 9.7, "F": 0.83}, {"t": 9.8, "F": 0.81}, {"t": 9.9, "F": 0.82}, {"t": 10.0, "F": 0.76}
   ]},
   "mark": {"type": "line", "color": "#aaa", "strokeWidth": 1}},
  {"data": {"values": [
    {"t": -0.1, "F": 0.97}, {"t": 0.0, "F": 0.96}, {"t": 0.1, "F": 0.98}, {"t": 0.2, "F": 0.955}, {"t": 0.3, "F": 0.975}, {"t": 0.35, "F": 0.96}, {"t": 0.4, "F": 0.99}, {"t": 0.45, "F": 0.97}, {"t": 0.5, "F": 1.03}, {"t": 0.55, "F": 0.98}, {"t": 0.6, "F": 0.95}, {"t": 0.65, "F": 0.92}, {"t": 0.7, "F": 0.905}, {"t": 0.8, "F": 0.89}, {"t": 0.9, "F": 0.86}, {"t": 1.0, "F": 0.83}, {"t": 1.05, "F": 0.87}, {"t": 1.1, "F": 0.85}, {"t": 1.2, "F": 0.84}, {"t": 1.3, "F": 0.86}, {"t": 1.4, "F": 0.83}, {"t": 1.5, "F": 0.85}, {"t": 1.6, "F": 0.84}, {"t": 1.7, "F": 0.855}, {"t": 1.8, "F": 0.835}, {"t": 1.9, "F": 0.845}, {"t": 2.0, "F": 0.85}, {"t": 2.1, "F": 0.84}, {"t": 2.2, "F": 0.86}, {"t": 2.3, "F": 0.88}, {"t": 2.4, "F": 0.91}, {"t": 2.5, "F": 0.87}, {"t": 2.6, "F": 0.86}, {"t": 2.7, "F": 0.84}, {"t": 2.8, "F": 0.855}, {"t": 2.9, "F": 0.84}, {"t": 3.0, "F": 0.85}, {"t": 3.1, "F": 0.83}, {"t": 3.2, "F": 0.845}, {"t": 3.3, "F": 0.83}, {"t": 3.4, "F": 0.82}, {"t": 3.5, "F": 0.81}, {"t": 3.6, "F": 0.79}, {"t": 3.7, "F": 0.82}, {"t": 3.8, "F": 0.83}, {"t": 3.9, "F": 0.845}, {"t": 4.0, "F": 0.84}, {"t": 4.1, "F": 0.855}, {"t": 4.2, "F": 0.84}, {"t": 4.3, "F": 0.85}, {"t": 4.4, "F": 0.86}, {"t": 4.5, "F": 0.845}, {"t": 4.6, "F": 0.855}, {"t": 4.7, "F": 0.87}, {"t": 4.8, "F": 0.86}, {"t": 4.9, "F": 0.85}, {"t": 5.0, "F": 0.945}, {"t": 5.05, "F": 0.86}, {"t": 5.1, "F": 0.84}, {"t": 5.2, "F": 0.855}, {"t": 5.3, "F": 0.87}, {"t": 5.4, "F": 0.85}, {"t": 5.5, "F": 0.86}, {"t": 5.6, "F": 0.845}, {"t": 5.7, "F": 0.83}, {"t": 5.8, "F": 0.84}, {"t": 5.9, "F": 0.825}, {"t": 6.0, "F": 0.835}, {"t": 6.1, "F": 0.845}, {"t": 6.2, "F": 0.83}, {"t": 6.3, "F": 0.84}, {"t": 6.4, "F": 0.825}, {"t": 6.5, "F": 0.835}, {"t": 6.6, "F": 0.82}, {"t": 6.7, "F": 0.83}, {"t": 6.8, "F": 0.815}, {"t": 6.9, "F": 0.8}, {"t": 7.0, "F": 0.81}, {"t": 7.1, "F": 0.825}, {"t": 7.2, "F": 0.835}, {"t": 7.3, "F": 0.82}, {"t": 7.4, "F": 0.83}, {"t": 7.5, "F": 0.84}, {"t": 7.6, "F": 0.83}, {"t": 7.7, "F": 0.845}, {"t": 7.8, "F": 0.84}, {"t": 7.9, "F": 0.855}, {"t": 8.0, "F": 0.85}, {"t": 8.1, "F": 0.86}, {"t": 8.2, "F": 0.855}, {"t": 8.3, "F": 0.865}, {"t": 8.4, "F": 0.85}, {"t": 8.5, "F": 0.86}, {"t": 8.6, "F": 0.855}, {"t": 8.7, "F": 0.84}, {"t": 8.8, "F": 0.85}, {"t": 8.9, "F": 0.83}, {"t": 9.0, "F": 0.845}, {"t": 9.1, "F": 0.835}, {"t": 9.2, "F": 0.82}, {"t": 9.3, "F": 0.84}, {"t": 9.4, "F": 0.83}, {"t": 9.5, "F": 0.85}, {"t": 9.6, "F": 0.82}, {"t": 9.7, "F": 0.835}, {"t": 9.8, "F": 0.825}, {"t": 9.9, "F": 0.815}, {"t": 9.95, "F": 0.8}, {"t": 10.0, "F": 0.74}
   ]},
   "mark": {"type": "line", "color": "#222", "strokeWidth": 0.9}},
  {"data": {"values": [{"t": 5.53, "F": 1.089, "label": "100 μM ATP"}]},
   "mark": {"type": "text", "fontSize": 17, "color": "#111"},
   "encoding": {"text": {"field": "label"}}}
 ]
},
{
 "width": 224, "height": 148,
 "encoding": {
  "x": {"field": "t", "type": "quantitative", "scale": {"domain": [0, 10], "range": [28, 180], "nice": false, "zero": false}, "axis": {"values": [0, 5, 10], "tickSize": -13, "labelPadding": 16, "labelFlush": false, "title": "Minutes", "titleX": 103, "titleY": 32, "titleBaseline": "middle"}},
  "y": {"field": "F", "type": "quantitative", "scale": {"domain": [0.6, 1.0], "nice": false, "zero": false}, "axis": {"values": [0.6, 0.8, 1.0], "format": ".1f", "tickSize": -17, "labelPadding": 23, "title": "F", "titleX": -54, "titleY": 74, "titleBaseline": "middle"}}
 },
 "layer": [
  {"data": {"values": [{"t": -0.13, "t2": 11.4, "F": 1.0}]},
   "mark": {"type": "rule", "color": "#111", "strokeWidth": 1, "strokeDash": [2, 2]},
   "encoding": {"x2": {"field": "t2"}}},
  {"data": {"values": [{"t": 0.92, "t2": 10.13, "F": 1.043, "F2": 1.054}]},
   "mark": {"type": "rect", "fill": "white", "stroke": "#111", "strokeWidth": 1},
   "encoding": {"x2": {"field": "t2"}, "y2": {"field": "F2"}}},
  {"data": {"values": [
    {"t": 0.0, "F": 1.008}, {"t": 0.1, "F": 1.0}, {"t": 0.2, "F": 1.004}, {"t": 0.3, "F": 0.998}, {"t": 0.5, "F": 1.002}, {"t": 0.7, "F": 0.997}, {"t": 0.9, "F": 1.003}, {"t": 1.1, "F": 0.996}, {"t": 1.3, "F": 1.0}, {"t": 1.5, "F": 0.995}, {"t": 1.7, "F": 1.006}, {"t": 1.8, "F": 0.996}, {"t": 2.0, "F": 0.999}, {"t": 2.3, "F": 0.994}, {"t": 2.6, "F": 0.997}, {"t": 2.9, "F": 0.992}, {"t": 3.2, "F": 0.995}, {"t": 3.5, "F": 0.991}, {"t": 3.8, "F": 0.994}, {"t": 4.1, "F": 0.99}, {"t": 4.4, "F": 0.993}, {"t": 4.7, "F": 0.989}, {"t": 5.0, "F": 1.012}, {"t": 5.1, "F": 0.99}, {"t": 5.4, "F": 0.991}, {"t": 5.7, "F": 0.988}, {"t": 6.0, "F": 0.991}, {"t": 6.3, "F": 0.987}, {"t": 6.6, "F": 0.99}, {"t": 6.9, "F": 0.986}, {"t": 7.2, "F": 0.989}, {"t": 7.5, "F": 0.985}, {"t": 7.8, "F": 0.988}, {"t": 8.1, "F": 0.984}, {"t": 8.4, "F": 0.987}, {"t": 8.7, "F": 0.983}, {"t": 9.0, "F": 0.985}, {"t": 9.3, "F": 0.982}, {"t": 9.6, "F": 0.984}, {"t": 9.9, "F": 0.98}, {"t": 10.2, "F": 0.982}, {"t": 10.5, "F": 0.978}, {"t": 10.8, "F": 0.985}, {"t": 11.0, "F": 0.975}, {"t": 11.1, "F": 0.995}, {"t": 11.2, "F": 0.98}, {"t": 11.4, "F": 0.985}
   ]},
   "mark": {"type": "line", "color": "#aaa", "strokeWidth": 1}},
  {"data": {"values": [
    {"t": 0.0, "F": 1.005}, {"t": 0.1, "F": 0.995}, {"t": 0.2, "F": 1.0}, {"t": 0.3, "F": 0.993}, {"t": 0.4, "F": 0.998}, {"t": 0.5, "F": 0.992}, {"t": 0.6, "F": 0.996}, {"t": 0.8, "F": 0.99}, {"t": 1.0, "F": 0.993}, {"t": 1.2, "F": 0.988}, {"t": 1.4, "F": 0.991}, {"t": 1.6, "F": 0.986}, {"t": 1.8, "F": 0.99}, {"t": 2.0, "F": 0.985}, {"t": 2.2, "F": 0.988}, {"t": 2.4, "F": 0.983}, {"t": 2.6, "F": 0.986}, {"t": 2.8, "F": 0.981}, {"t": 3.0, "F": 0.984}, {"t": 3.3, "F": 0.98}, {"t": 3.6, "F": 0.983}, {"t": 3.9, "F": 0.978}, {"t": 4.2, "F": 0.981}, {"t": 4.5, "F": 0.977}, {"t": 4.8, "F": 0.98}, {"t": 5.1, "F": 0.975}, {"t": 5.4, "F": 0.978}, {"t": 5.7, "F": 0.976}, {"t": 6.0, "F": 0.979}, {"t": 6.3, "F": 0.975}, {"t": 6.6, "F": 0.977}, {"t": 6.9, "F": 0.973}, {"t": 7.2, "F": 0.976}, {"t": 7.5, "F": 0.972}, {"t": 7.8, "F": 0.975}, {"t": 8.1, "F": 0.971}, {"t": 8.4, "F": 0.973}, {"t": 8.7, "F": 0.969}, {"t": 9.0, "F": 0.971}, {"t": 9.3, "F": 0.968}, {"t": 9.6, "F": 0.967}, {"t": 9.9, "F": 0.964}, {"t": 10.2, "F": 0.966}, {"t": 10.5, "F": 0.963}, {"t": 10.8, "F": 0.968}, {"t": 11.0, "F": 0.958}, {"t": 11.1, "F": 0.985}, {"t": 11.2, "F": 0.975}, {"t": 11.3, "F": 0.99}, {"t": 11.4, "F": 0.97}
   ]},
   "mark": {"type": "line", "color": "#222", "strokeWidth": 1}},
  {"data": {"values": [{"t": 5.79, "F": 1.089, "label": "100 μM ATP"}]},
   "mark": {"type": "text", "fontSize": 17, "color": "#111"},
   "encoding": {"text": {"field": "label"}}}
 ]
}
],
"config": {
 "view": {"stroke": null},
 "font": "Liberation Sans",
 "text": {"font": "Liberation Sans"},
 "axis": {"grid": false, "domainColor": "#222", "tickColor": "#222", "domainWidth": 1.3, "tickWidth": 1.3, "labelColor": "#111", "titleColor": "#111", "labelFont": "Liberation Sans", "titleFont": "Liberation Sans", "labelFontSize": 16, "titleFontSize": 16, "titleFontWeight": "normal"}
}
}
